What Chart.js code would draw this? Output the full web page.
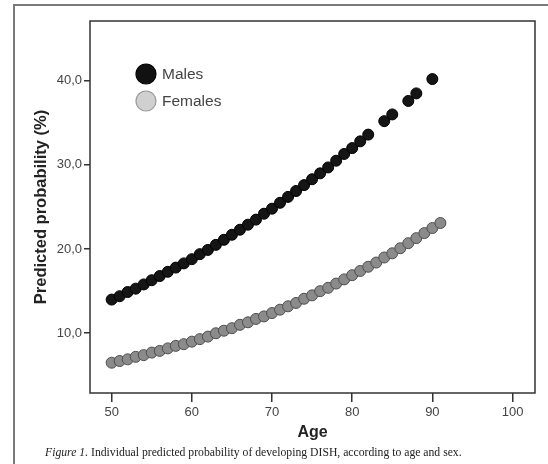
<!DOCTYPE html>
<html>
<head>
<meta charset="utf-8">
<script src="https://cdn.jsdelivr.net/npm/chart.js@4/dist/chart.umd.min.js"></script>
<style>
  html, body { margin: 0; padding: 0; background: #fff; }
  #wrap { width: 548px; height: 464px; }
</style>
</head>
<body>
<div id="wrap"><canvas id="chart"></canvas></div>
<script>
// ─── DATA ─────────────────────────────────────────────────────────────
const maleAges = [50, 51, 52, 53, 54, 55, 56, 57, 58, 59, 60, 61, 62, 63, 64, 65, 66, 67, 68, 69,
  70, 71, 72, 73, 74, 75, 76, 77, 78, 79, 80, 81, 82, 84, 85, 87, 88, 90];
const maleProb = [14.0, 14.4, 14.9, 15.3, 15.8, 16.3, 16.8, 17.3, 17.8, 18.3, 18.8, 19.4, 19.9, 20.5,
  21.1, 21.7, 22.3, 22.9, 23.5, 24.2, 24.8, 25.5, 26.2, 26.9, 27.6, 28.3, 29.0, 29.7, 30.5, 31.3,
  32.0, 32.8, 33.6, 35.2, 36.0, 37.6, 38.5, 40.2];

const femaleAges = [50, 51, 52, 53, 54, 55, 56, 57, 58, 59, 60, 61, 62, 63, 64, 65, 66, 67, 68, 69, 70,
  71, 72, 73, 74, 75, 76, 77, 78, 79, 80, 81, 82, 83, 84, 85, 86, 87, 88, 89, 90, 91];
const femaleProb = [6.5, 6.7, 6.9, 7.2, 7.4, 7.7, 7.9, 8.2, 8.5, 8.7, 9.0, 9.3, 9.6, 10.0, 10.3, 10.6,
  11.0, 11.3, 11.7, 12.0, 12.4, 12.8, 13.2, 13.6, 14.1, 14.5, 15.0, 15.4, 15.9, 16.4, 16.9, 17.4,
  17.9, 18.4, 19.0, 19.5, 20.1, 20.7, 21.3, 21.9, 22.5, 23.1];

const xTicks = [50, 60, 70, 80, 90, 100];
const yTicks = [10, 20, 30, 40];
const seriesNames = ['Males', 'Females'];

const SANS = '"Liberation Sans", Arial, sans-serif';
const SERIF = '"Liberation Serif", "Times New Roman", serif';

// ─── PLUGINS ──────────────────────────────────────────────────────────
// outer figure frame, plot box, legend inside the plot, caption
const decor = {
  id: 'decor',
  afterDraw(chart) {
    const ctx = chart.ctx;
    const a = chart.chartArea;
    ctx.save();

    // figure frame (runs off right and bottom)
    ctx.strokeStyle = '#7a7a7a';
    ctx.lineWidth = 2;
    ctx.beginPath();
    ctx.moveTo(14, 470);
    ctx.lineTo(14, 5);
    ctx.lineTo(560, 5);
    ctx.stroke();

    // plot box
    ctx.strokeStyle = '#333';
    ctx.lineWidth = 1.5;
    ctx.strokeRect(a.left, a.top, a.right - a.left, a.bottom - a.top);

    // legend
    const legendFill = ['#111', '#d0d0d0'];
    const legendEdge = ['#000', '#9a9a9a'];
    chart.data.datasets.forEach((ds, i) => {
      const cx = a.left + 56, cy = a.top + 53 + i * 27;
      ctx.beginPath();
      ctx.arc(cx, cy, 10, 0, Math.PI * 2);
      ctx.fillStyle = legendFill[i];
      ctx.fill();
      ctx.lineWidth = 1.2;
      ctx.strokeStyle = legendEdge[i];
      ctx.stroke();
      ctx.fillStyle = '#444';
      ctx.font = '15.5px ' + SANS;
      ctx.textBaseline = 'middle';
      ctx.textAlign = 'left';
      ctx.fillText(ds.label, cx + 16, cy + 1);
    });

    // caption
    ctx.fillStyle = '#222';
    ctx.textBaseline = 'middle';
    ctx.font = 'italic 11.7px ' + SERIF;
    const lead = 'Figure 1.';
    ctx.fillText(lead, 45, 453);
    const w = ctx.measureText(lead + ' ').width;
    ctx.font = '11.7px ' + SERIF;
    ctx.fillText('Individual predicted probability of developing DISH, according to age and sex.', 45 + w, 453);
    ctx.restore();
  }
};

// ─── CHART ────────────────────────────────────────────────────────────
new Chart(document.getElementById('chart'), {
  type: 'scatter',
  data: {
    datasets: [
      {
        label: seriesNames[0],
        data: maleAges.map((x, i) => ({ x, y: maleProb[i] })),
        backgroundColor: '#151515',
        borderColor: '#000',
        borderWidth: 1,
        pointRadius: 5.5,
      },
      {
        label: seriesNames[1],
        data: femaleAges.map((x, i) => ({ x, y: femaleProb[i] })),
        backgroundColor: '#8b8b8b',
        borderColor: '#4e4e4e',
        borderWidth: 1,
        pointRadius: 5.5,
      },
    ],
  },
  options: {
    responsive: true,
    maintainAspectRatio: false,
    animation: false,
    layout: { padding: { top: 21, right: 13, left: 0, bottom: 0 } },
    plugins: { legend: { display: false }, tooltip: { enabled: false } },
    scales: {
      x: {
        type: 'linear',
        min: 47.3,
        max: 102.8,
        afterBuildTicks: s => { s.ticks = xTicks.map(v => ({ value: v })); },
        afterFit: s => { s.height = 71; },
        border: { display: false },
        grid: { drawOnChartArea: false, drawTicks: true, tickLength: 9, color: '#333', lineWidth: 1.5 },
        ticks: { color: '#444', font: { family: SANS, size: 13 }, padding: 3 },
        title: {
          display: true, text: 'Age', color: '#222',
          font: { family: SANS, size: 16, weight: 'bold' },
          padding: { top: 0, bottom: 22 },
        },
      },
      y: {
        type: 'linear',
        min: 2.9,
        max: 47.1,
        afterBuildTicks: s => { s.ticks = yTicks.map(v => ({ value: v })); },
        afterFit: s => { s.width = 90; },
        border: { display: false },
        grid: { drawOnChartArea: false, drawTicks: true, tickLength: 6, color: '#333', lineWidth: 1.5 },
        ticks: {
          color: '#444', font: { family: SANS, size: 13 }, padding: 2,
          callback: v => v.toFixed(1).replace('.', ','),
        },
        title: {
          display: true, text: 'Predicted probability (%)', color: '#222',
          font: { family: SANS, size: 16.5, weight: 'bold' },
          padding: { top: 32, bottom: 0 },
        },
      },
    },
  },
  plugins: [decor],
});
</script>
</body>
</html>
